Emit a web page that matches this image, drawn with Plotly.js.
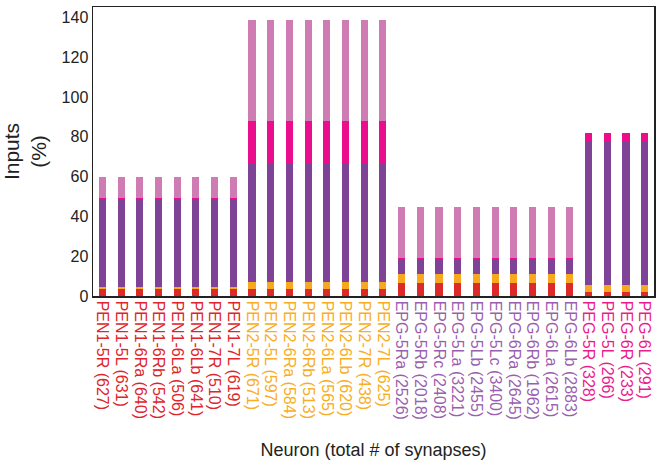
<!DOCTYPE html>
<html><head><meta charset="utf-8">
<script src="https://cdn.plot.ly/plotly-3.0.1.min.js"></script>
<style>html,body{margin:0;padding:0;background:#fff}#chart{width:662px;height:475px}</style>
</head><body><div id="chart"></div>
<script>
var neurons = ["PEN1-5R","PEN1-5L","PEN1-6Ra","PEN1-6Rb","PEN1-6La","PEN1-6Lb","PEN1-7R","PEN1-7L",
  "PEN2-5R","PEN2-5L","PEN2-6Ra","PEN2-6Rb","PEN2-6La","PEN2-6Lb","PEN2-7R","PEN2-7L",
  "EPG-5Ra","EPG-5Rb","EPG-5Rc","EPG-5La","EPG-5Lb","EPG-5Lc","EPG-6Ra","EPG-6Rb","EPG-6La","EPG-6Lb",
  "PEG-5R","PEG-5L","PEG-6R","PEG-6L"];
var synapses = [627,631,640,542,506,641,510,619,671,597,584,513,565,620,438,625,
  2526,2018,2408,3221,2455,3400,2645,1962,2615,2883,328,266,233,291];
var groups = ["PEN1","PEN1","PEN1","PEN1","PEN1","PEN1","PEN1","PEN1",
  "PEN2","PEN2","PEN2","PEN2","PEN2","PEN2","PEN2","PEN2",
  "EPG","EPG","EPG","EPG","EPG","EPG","EPG","EPG","EPG","EPG",
  "PEG","PEG","PEG","PEG"];
// stacked input fractions (%) per neuron, bottom to top
var seg1 = [3.3,3.3,3.3,3.3,3.3,3.3,3.3,3.3, 3.3,3.3,3.3,3.3,3.3,3.3,3.3,3.3,
  6.3,6.3,6.3,6.3,6.3,6.3,6.3,6.3,6.3,6.3, 1.8,1.8,1.8,1.8];
var seg2 = [1.0,1.0,1.0,1.0,1.0,1.0,1.0,1.0, 3.5,3.5,3.5,3.5,3.5,3.5,3.5,3.5,
  5.0,5.0,5.0,5.0,5.0,5.0,5.0,5.0,5.0,5.0, 3.5,3.5,3.5,3.5];
var seg3 = [44.3,44.3,44.3,44.3,44.3,44.3,44.3,44.3, 59.6,59.6,59.6,59.6,59.6,59.6,59.6,59.6,
  7.5,7.5,7.5,7.5,7.5,7.5,7.5,7.5,7.5,7.5, 72.5,72.5,72.5,72.5];
var seg4 = [0.6,0.6,0.6,0.6,0.6,0.6,0.6,0.6, 21.5,21.5,21.5,21.5,21.5,21.5,21.5,21.5,
  0.3,0.3,0.3,0.3,0.3,0.3,0.3,0.3,0.3,0.3, 4.0,4.0,4.0,4.0];
var seg5 = [10.5,10.5,10.5,10.5,10.5,10.5,10.5,10.5, 50.8,50.8,50.8,50.8,50.8,50.8,50.8,50.8,
  25.6,25.6,25.6,25.6,25.6,25.6,25.6,25.6,25.6,25.6, 0,0,0,0];

var segColors = ["#dc2a28","#f8a81e","#7e4296","#ea0d8c","#cf7bb4"];
var groupColors = {PEN1:"#e0242b", PEN2:"#f9ad24", EPG:"#9b5fb0", PEG:"#ec1a8f"};

var cats = neurons.map(function(n,i){return n+" ("+synapses[i]+")";});
var ticktext = cats.map(function(c,i){return '<span style="color:'+groupColors[groups[i]]+'">'+c+'</span>';});

var segs = [seg1,seg2,seg3,seg4,seg5];
var traces = segs.map(function(s,k){
  return {type:"bar", x:cats, y:s, marker:{color:segColors[k], line:{width:0}}, hoverinfo:"y", showlegend:false};
});

var layout = {
  width:662, height:475,
  margin:{l:93,r:8,t:7,b:179},
  barmode:"stack", bargap:0.62,
  paper_bgcolor:"#fff", plot_bgcolor:"#fff",
  font:{family:"Liberation Sans, Arial, sans-serif", color:"#222"},
  xaxis:{type:"category", tickvals:cats, ticktext:ticktext, tickangle:90,
    tickfont:{size:16}, showline:true, mirror:true, linecolor:"#222", linewidth:1.5,
    showgrid:false, ticks:"", range:[-0.5,29.5],
    title:{text:"Neuron (total # of synapses)", font:{size:18,color:"#222"}, standoff:24}},
  yaxis:{range:[0,145.3], tickvals:[0,20,40,60,80,100,120,140], tickfont:{size:16},
    showline:true, mirror:true, linecolor:"#222", linewidth:1.5, showgrid:false, zeroline:false, ticks:"",
    title:{text:"Inputs<br>(%)", font:{size:21,color:"#222"}, standoff:16}}
};
Plotly.newPlot("chart", traces, layout, {displayModeBar:false, staticPlot:true});
</script></body></html>
